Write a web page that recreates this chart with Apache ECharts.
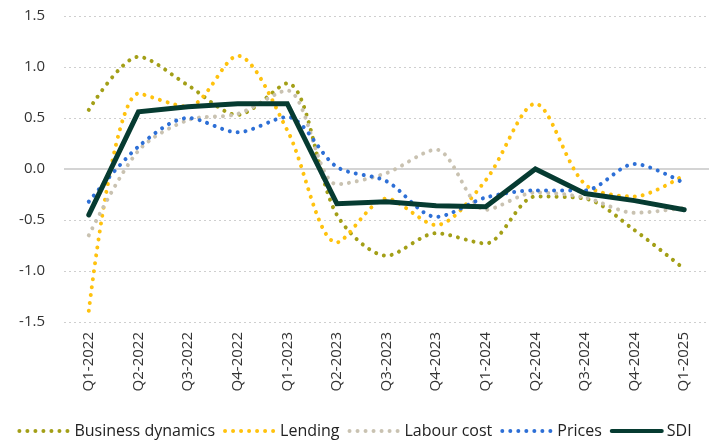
<!DOCTYPE html>
<html>
<head>
<meta charset="utf-8">
<script src="https://cdn.jsdelivr.net/npm/echarts@6/dist/echarts.min.js"></script>
<style>
html,body{margin:0;padding:0;background:#fff;}
#chart{width:709px;height:441px;}
</style>
</head>
<body>
<div id="chart"></div>
<script>
const categories = ["Q1-2022","Q2-2022","Q3-2022","Q4-2022","Q1-2023","Q2-2023","Q3-2023","Q4-2023","Q1-2024","Q2-2024","Q3-2024","Q4-2024","Q1-2025"];
const businessDynamics = [0.58, 1.10, 0.82, 0.53, 0.84, -0.45, -0.85, -0.63, -0.73, -0.27, -0.29, -0.60, -0.98];
const lending = [-1.39, 0.74, 0.61, 1.11, 0.38, -0.72, -0.29, -0.55, -0.11, 0.64, -0.15, -0.27, -0.06];
const labourCost = [-0.65, 0.18, 0.48, 0.54, 0.77, -0.15, -0.04, 0.19, -0.40, -0.23, -0.28, -0.43, -0.38];
const prices = [-0.32, 0.22, 0.50, 0.36, 0.51, 0.02, -0.12, -0.47, -0.28, -0.21, -0.21, 0.05, -0.14];
const sdi = [-0.45, 0.56, 0.61, 0.64, 0.64, -0.34, -0.32, -0.36, -0.37, 0.00, -0.24, -0.31, -0.40];
const yTicks = [-1.5, -1.0, -0.5, 0.0, 0.5, 1.0, 1.5];

const FONT = "Open Sans";
function dotted(name, data, color, extra) {
  return Object.assign({
    name: name,
    type: 'line',
    data: data,
    smooth: 0.3,
    symbol: 'none',
    showSymbol: false,
    lineStyle: { color: color, width: 4, type: [0.01, 8], cap: 'round' },
    itemStyle: { color: color },
    z: 2
  }, extra || {});
}

const chart = echarts.init(document.getElementById('chart'), null, { renderer: 'canvas' });
chart.setOption({
  animation: false,
  textStyle: { fontFamily: FONT },
  grid: { left: 64, right: 0, top: 16, bottom: 119, containLabel: false },
  legend: {
    top: 418,
    left: 'center',
    itemWidth: 50,
    itemHeight: 14,
    itemGap: 8,
    itemStyle: { opacity: 0 },
    lineStyle: { width: 4, cap: 'round' },
    textStyle: { fontFamily: FONT, fontSize: 16, color: '#222' },
    data: ['Business dynamics', 'Lending', 'Labour cost', 'Prices', 'SDI']
  },
  xAxis: {
    type: 'category',
    data: categories,
    boundaryGap: true,
    axisLine: { show: false },
    axisTick: { show: false },
    axisLabel: { rotate: 90, fontSize: 15, color: '#333', margin: 10, fontFamily: FONT, interval: 0 }
  },
  yAxis: {
    type: 'value',
    min: -1.5,
    max: 1.5,
    interval: 0.5,
    axisLine: { show: false },
    axisTick: { show: false },
    axisLabel: {
      fontSize: 15, color: '#333', margin: 19, fontFamily: FONT,
      formatter: function (v) { return v.toFixed(1); }
    },
    splitLine: { lineStyle: { color: '#cfcfcf', width: 1, type: [2, 3] } }
  },
  series: [
    dotted('Business dynamics', businessDynamics, '#a39f17', {
      markLine: {
        silent: true, symbol: 'none', label: { show: false },
        lineStyle: { color: '#d4d4d4', width: 2, type: 'solid' },
        data: [{ yAxis: 0 }], z: 1
      }
    }),
    dotted('Lending', lending, '#ffc20e'),
    dotted('Labour cost', labourCost, '#c9c2b1'),
    dotted('Prices', prices, '#2d6fd6'),
    {
      name: 'SDI',
      type: 'line',
      data: sdi,
      smooth: false,
      symbol: 'none',
      showSymbol: false,
      lineStyle: { color: '#063b31', width: 5, cap: 'round', join: 'miter' },
      itemStyle: { color: '#063b31' },
      z: 5
    }
  ]
});
</script>
</body>
</html>
